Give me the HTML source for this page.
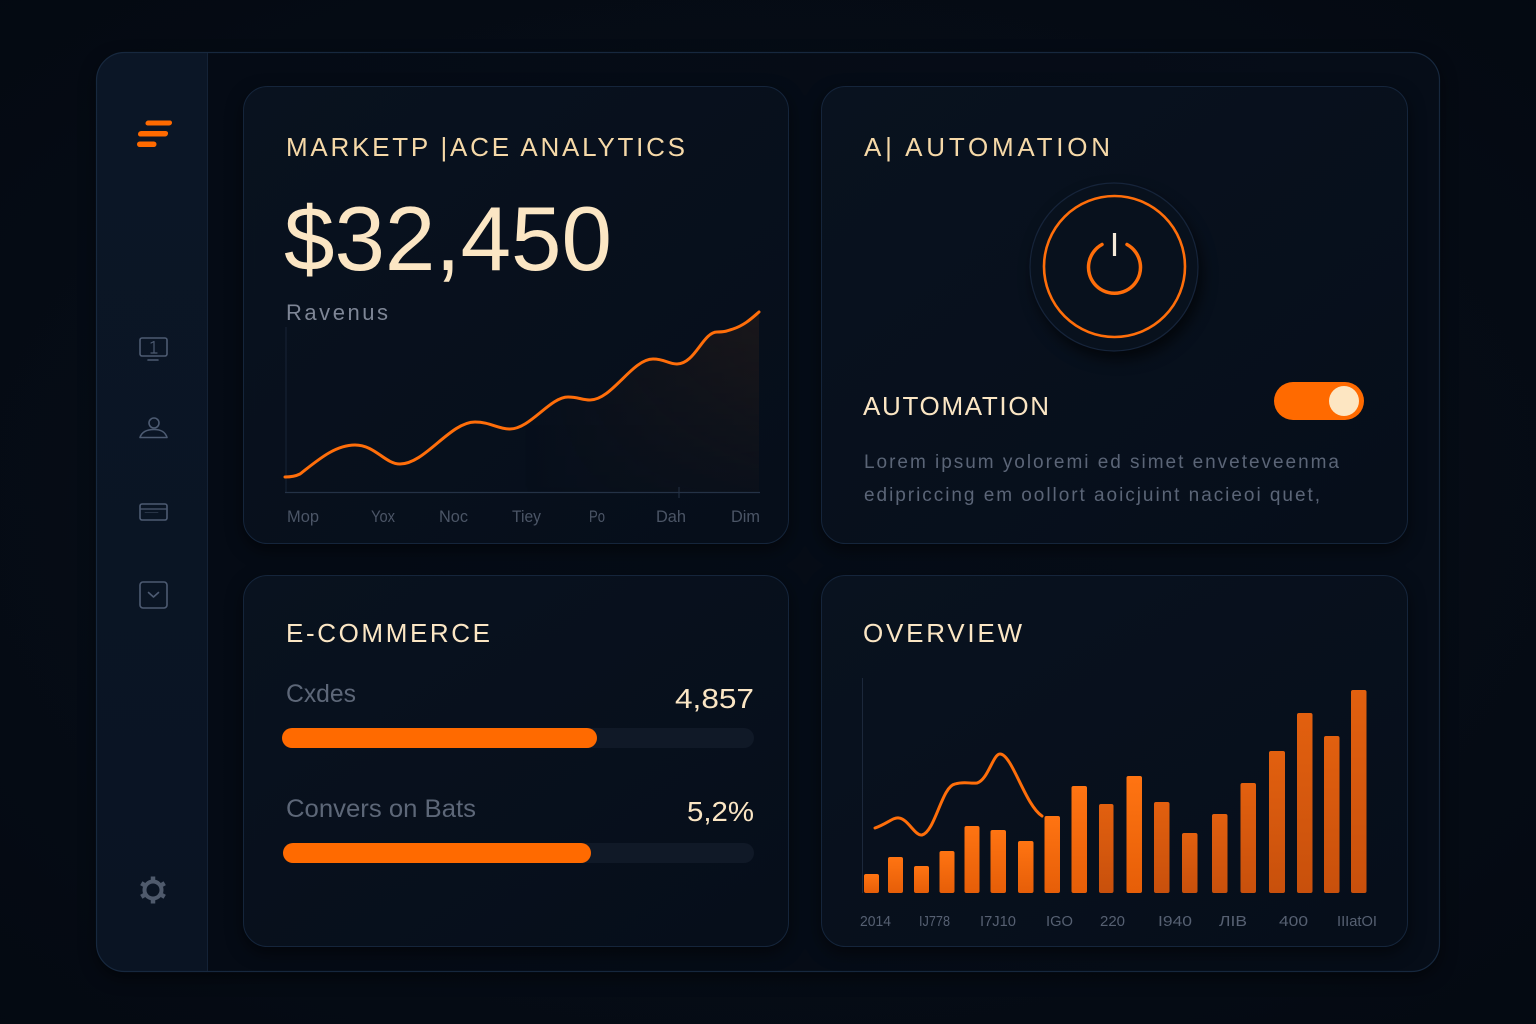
<!DOCTYPE html>
<html>
<head>
<meta charset="utf-8">
<style>
  html,body{margin:0;padding:0;background:#050b14;}
  body{width:1536px;height:1024px;overflow:hidden;}
  svg{display:block;}
  text{font-family:"Liberation Sans","DejaVu Sans",sans-serif;}
</style>
</head>
<body>
<svg width="1536" height="1024" viewBox="0 0 1536 1024" xmlns="http://www.w3.org/2000/svg">
  <defs>
    <radialGradient id="bgv" cx="50%" cy="50%" r="75%">
      <stop offset="0" stop-color="#08101c"/>
      <stop offset="1" stop-color="#040911"/>
    </radialGradient>
    <linearGradient id="mainbg" x1="0" y1="0" x2="1" y2="0">
      <stop offset="0" stop-color="#03070e"/>
      <stop offset="0.06" stop-color="#050b15"/>
      <stop offset="1" stop-color="#060d18"/>
    </linearGradient>
    <linearGradient id="side" x1="0" y1="0" x2="0" y2="1">
      <stop offset="0" stop-color="#0b1626"/>
      <stop offset="1" stop-color="#0a1423"/>
    </linearGradient>
    <linearGradient id="card" x1="0" y1="0" x2="1" y2="1">
      <stop offset="0" stop-color="#09121f"/>
      <stop offset="1" stop-color="#060e1a"/>
    </linearGradient>
    <linearGradient id="area" x1="0" y1="0" x2="1" y2="0">
      <stop offset="0" stop-color="#3a2418" stop-opacity="0"/>
      <stop offset="0.5" stop-color="#3a2418" stop-opacity="0"/>
      <stop offset="0.8" stop-color="#3a2418" stop-opacity="0.25"/>
      <stop offset="1" stop-color="#3a2418" stop-opacity="0.4"/>
    </linearGradient>
    <linearGradient id="areaV" x1="0" y1="0" x2="0" y2="1">
      <stop offset="0" stop-color="#fff" stop-opacity="1"/>
      <stop offset="1" stop-color="#fff" stop-opacity="0.2"/>
    </linearGradient>
    <mask id="areaMask"><rect x="280" y="300" width="490" height="200" fill="url(#areaV)"/></mask>
    <linearGradient id="bar" x1="0" y1="0" x2="0" y2="1">
      <stop offset="0" stop-color="#ff7412"/>
      <stop offset="1" stop-color="#e65e08"/>
    </linearGradient>
    <linearGradient id="bar2" x1="0" y1="0" x2="0" y2="1">
      <stop offset="0" stop-color="#e2600f"/>
      <stop offset="1" stop-color="#c8500c"/>
    </linearGradient>
    <filter id="sh" x="-20%" y="-20%" width="140%" height="140%" color-interpolation-filters="sRGB">
      <feDropShadow dx="0" dy="6" stdDeviation="8" flood-color="#000" flood-opacity="0.5"/>
    </filter>
    <filter id="sh2" x="-30%" y="-30%" width="160%" height="160%" color-interpolation-filters="sRGB">
      <feDropShadow dx="4" dy="8" stdDeviation="7" flood-color="#000" flood-opacity="0.6"/>
    </filter>
    <clipPath id="frameClip"><rect x="96.5" y="52.5" width="1343" height="919" rx="28"/></clipPath>
  </defs>

  <!-- background -->
  <rect x="0" y="0" width="1536" height="1024" fill="url(#bgv)"/>

  <!-- frame -->
  <rect x="96.5" y="52.5" width="1343" height="919" rx="28" fill="url(#mainbg)" filter="url(#sh)"/>
  <g clip-path="url(#frameClip)">
    <rect x="96" y="52" width="111.5" height="920" fill="url(#side)"/>
    <line x1="207.5" y1="52" x2="207.5" y2="972" stroke="#142236" stroke-width="1"/>
  </g>
  <rect x="96.5" y="52.5" width="1343" height="919" rx="28" fill="none" stroke="#17283e" stroke-width="1.2"/>

  <!-- logo -->
  <g fill="#ff6a00">
    <rect x="145.5" y="120.5" width="26.5" height="5" rx="2.5" transform="skewX(-8)" transform-origin="158 123"/>
    <rect x="138" y="131" width="30" height="5.5" rx="2.7" transform="skewX(-8)" transform-origin="153 134"/>
    <rect x="137" y="141.5" width="19.5" height="5.5" rx="2.7"/>
  </g>

  <!-- sidebar icons -->
  <g fill="none" stroke="#4d5b72" stroke-width="1.6" stroke-linecap="round" stroke-linejoin="round">
    <rect x="140" y="338" width="27" height="18" rx="2"/>
    <line x1="148" y1="360" x2="158" y2="360"/>
    <path d="M151,343 L154,341.5 L154,353 M151,353 L157,353" stroke-width="1.2"/>
    <circle cx="154" cy="423" r="5"/>
    <path d="M140,437.5 C142,431 148,429.5 154,429.5 C160,429.5 165,431 167,437.5"/>
    <line x1="141" y1="437.5" x2="166" y2="437.5"/>
    <rect x="140" y="504" width="27" height="16" rx="2"/>
    <line x1="141" y1="509" x2="166" y2="509" stroke-width="1.2"/>
    <line x1="145" y1="512.5" x2="158" y2="512.5" stroke-width="0.8" opacity="0.6"/>
    <rect x="140" y="582" width="27" height="26" rx="3"/>
    <path d="M148.5,592.5 L153.5,597 L158.5,592.5"/>
  </g>
  <!-- gear -->
  <g fill="none" stroke="#4f5a6c" stroke-linejoin="round">
    <circle cx="153" cy="890" r="8.5" stroke-width="4"/>
    <g stroke-width="4.5" stroke-linecap="butt">
      <line x1="153" y1="876.5" x2="153" y2="880"/>
      <line x1="153" y1="900" x2="153" y2="903.5"/>
      <line x1="141.3" y1="883.2" x2="144.3" y2="885"/>
      <line x1="161.7" y1="895" x2="164.7" y2="896.8"/>
      <line x1="141.3" y1="896.8" x2="144.3" y2="895"/>
      <line x1="161.7" y1="885" x2="164.7" y2="883.2"/>
    </g>
  </g>

  <!-- cards -->
  <g filter="url(#sh)">
    <rect x="243.5" y="86.5" width="545" height="457" rx="24" fill="url(#card)" stroke="#15253b" stroke-width="1"/>
    <rect x="821.5" y="86.5" width="586" height="457" rx="24" fill="url(#card)" stroke="#15253b" stroke-width="1"/>
    <rect x="243.5" y="575.5" width="545" height="371" rx="24" fill="url(#card)" stroke="#15253b" stroke-width="1"/>
    <rect x="821.5" y="575.5" width="586" height="371" rx="24" fill="url(#card)" stroke="#15253b" stroke-width="1"/>
  </g>

  <!-- Card 1: Marketplace analytics -->
  <text x="286" y="156" font-size="26" fill="#f6d9a8" textLength="399" lengthAdjust="spacing">MARKETP |ACE ANALYTICS</text>
  <text x="284" y="270" font-size="91" fill="#fbe6c4" textLength="328" lengthAdjust="spacingAndGlyphs">$32,450</text>
  <text x="286" y="320" font-size="22" fill="#7e8696" textLength="102" lengthAdjust="spacing">Ravenus</text>

  <line x1="286" y1="327" x2="286" y2="492" stroke="#172336" stroke-width="1"/>
  <line x1="285" y1="492.5" x2="760" y2="492.5" stroke="#243246" stroke-width="1.2"/>
  <line x1="679" y1="487" x2="679" y2="498" stroke="#243246" stroke-width="1"/>

  <path d="M285,477 C292,477 296,476 300,474 C318,460 335,445 355,445 C375,445 385,464 400,464 C425,464 450,422 475,422 C490,422 498,429 510,429 C530,429 550,397 568,397 C578,397 582,400 590,400 C612,400 632,359 653,359 C665,359 668,364 677,364 C695,364 703,332 717,332 C725,332 727,331 733,329 C745,325 752,318 759,312 L759,492 L285,492 Z" fill="url(#area)" mask="url(#areaMask)"/>
  <path d="M285,477 C292,477 296,476 300,474 C318,460 335,445 355,445 C375,445 385,464 400,464 C425,464 450,422 475,422 C490,422 498,429 510,429 C530,429 550,397 568,397 C578,397 582,400 590,400 C612,400 632,359 653,359 C665,359 668,364 677,364 C695,364 703,332 717,332 C725,332 727,331 733,329 C745,325 752,318 759,312" fill="none" stroke="#ff6e0a" stroke-width="3" stroke-linecap="round"/>

  <g font-size="17" fill="#4b5566">
    <text x="287" y="522" textLength="32" lengthAdjust="spacingAndGlyphs">Mop</text>
    <text x="371" y="522" textLength="24" lengthAdjust="spacingAndGlyphs">Yox</text>
    <text x="439" y="522" textLength="29" lengthAdjust="spacingAndGlyphs">Noc</text>
    <text x="512" y="522" textLength="29" lengthAdjust="spacingAndGlyphs">Tiey</text>
    <text x="589" y="522" textLength="16" lengthAdjust="spacingAndGlyphs">Po</text>
    <text x="656" y="522" textLength="30" lengthAdjust="spacingAndGlyphs">Dah</text>
    <text x="731" y="522" textLength="29" lengthAdjust="spacingAndGlyphs">Dim</text>
  </g>

  <!-- Card 2: AI Automation -->
  <text x="864" y="156" font-size="26" fill="#f6d9a8" textLength="246" lengthAdjust="spacing">A| AUTOMATION</text>

  <circle cx="1114" cy="267" r="84" fill="#08111d" stroke="#16243a" stroke-width="1.2" filter="url(#sh2)"/>
  <circle cx="1114.5" cy="266.5" r="70.5" fill="none" stroke="#ff6e0a" stroke-width="2.6"/>
  <path d="M1102,244.5 A26,26 0 1,0 1127,244.5" fill="none" stroke="#ff6e0a" stroke-width="3.5" stroke-linecap="round"/>
  <line x1="1114.5" y1="233" x2="1114.5" y2="256" stroke="#f5ead8" stroke-width="3.2"/>

  <text x="863" y="415" font-size="26" fill="#fbe6c4" textLength="186" lengthAdjust="spacing">AUTOMATION</text>

  <rect x="1274" y="382" width="90" height="38" rx="19" fill="#ff6a00"/>
  <circle cx="1344" cy="401" r="15" fill="#fde6c2"/>

  <g font-size="19" fill="#5b6577">
    <text x="864" y="468" textLength="475" lengthAdjust="spacing">Lorem ipsum yoloremi ed simet enveteveenma</text>
    <text x="864" y="501" textLength="456" lengthAdjust="spacing">edipriccing em oollort aoicjuint nacieoi quet,</text>
  </g>

  <!-- Card 3: E-commerce -->
  <text x="286" y="642" font-size="26" fill="#fbe6c4" textLength="204" lengthAdjust="spacing">E-COMMERCE</text>
  <text x="286" y="702" font-size="25" fill="#5d6778" textLength="70" lengthAdjust="spacingAndGlyphs">Cxdes</text>
  <text x="754" y="708" font-size="28" fill="#fbe6c4" text-anchor="end" textLength="79" lengthAdjust="spacingAndGlyphs">4,857</text>
  <rect x="282" y="728" width="472" height="20" rx="10" fill="#101927"/>
  <rect x="282" y="728" width="315" height="20" rx="10" fill="#ff6a00"/>

  <text x="286" y="817" font-size="25" fill="#5d6778" textLength="190" lengthAdjust="spacingAndGlyphs">Convers on Bats</text>
  <text x="754" y="821" font-size="28" fill="#fbe6c4" text-anchor="end" textLength="67" lengthAdjust="spacingAndGlyphs">5,2%</text>
  <rect x="283" y="843" width="471" height="20" rx="10" fill="#101927"/>
  <rect x="283" y="843" width="308" height="20" rx="10" fill="#ff6a00"/>

  <!-- Card 4: Overview -->
  <text x="863" y="642" font-size="26" fill="#fbe6c4" textLength="159" lengthAdjust="spacing">OVERVIEW</text>
  <line x1="862.5" y1="678" x2="862.5" y2="893" stroke="#1c283b" stroke-width="1"/>

  <g>
    <rect x="864" y="874" width="15" height="19" rx="2" fill="url(#bar)"/>
    <rect x="888" y="857" width="15" height="36" rx="2" fill="url(#bar)"/>
    <rect x="914" y="866" width="15" height="27" rx="2" fill="url(#bar)"/>
    <rect x="939.5" y="851" width="15" height="42" rx="2" fill="url(#bar)"/>
    <rect x="964.5" y="826" width="15" height="67" rx="2" fill="url(#bar)"/>
    <rect x="990.5" y="830" width="15.5" height="63" rx="2" fill="url(#bar)"/>
    <rect x="1018" y="841" width="15.5" height="52" rx="2" fill="url(#bar)"/>
    <rect x="1044.5" y="816" width="15.5" height="77" rx="2" fill="url(#bar)"/>
    <rect x="1071.5" y="786" width="15.5" height="107" rx="2" fill="url(#bar)"/>
    <rect x="1099" y="804" width="14.5" height="89" rx="2" fill="url(#bar2)"/>
    <rect x="1126.5" y="776" width="15.5" height="117" rx="2" fill="url(#bar)"/>
    <rect x="1154" y="802" width="15.5" height="91" rx="2" fill="url(#bar2)"/>
    <rect x="1182" y="833" width="15.5" height="60" rx="2" fill="url(#bar2)"/>
    <rect x="1212" y="814" width="15.5" height="79" rx="2" fill="url(#bar2)"/>
    <rect x="1240.5" y="783" width="15.5" height="110" rx="2" fill="url(#bar2)"/>
    <rect x="1269" y="751" width="16" height="142" rx="2" fill="url(#bar2)"/>
    <rect x="1297" y="713" width="15.5" height="180" rx="2" fill="url(#bar2)"/>
    <rect x="1324" y="736" width="15.5" height="157" rx="2" fill="url(#bar2)"/>
    <rect x="1351" y="690" width="15.5" height="203" rx="2" fill="url(#bar2)"/>
  </g>

  <path d="M875,828 C887,824 893,817 899,818 C908,819 915,836 922,835 C935,832 942,786 955,784 C965,781 970,784 977,783 C988,780 993,754 1000,754 C1012,754 1025,805 1042,816" fill="none" stroke="#ff6e0a" stroke-width="3" stroke-linecap="round"/>

  <g font-size="15" fill="#566072">
    <text x="860" y="926" textLength="31" lengthAdjust="spacingAndGlyphs">2014</text>
    <text x="919" y="926" textLength="31" lengthAdjust="spacingAndGlyphs">IJ778</text>
    <text x="980" y="926" textLength="36" lengthAdjust="spacingAndGlyphs">I7J10</text>
    <text x="1046" y="926" textLength="27" lengthAdjust="spacingAndGlyphs">IGO</text>
    <text x="1100" y="926" textLength="25" lengthAdjust="spacingAndGlyphs">220</text>
    <text x="1158" y="926" textLength="34" lengthAdjust="spacingAndGlyphs">I940</text>
    <text x="1219" y="926" textLength="28" lengthAdjust="spacingAndGlyphs">ЛIB</text>
    <text x="1279" y="926" textLength="29" lengthAdjust="spacingAndGlyphs">400</text>
    <text x="1337" y="926" textLength="40" lengthAdjust="spacingAndGlyphs">IIIatOI</text>
  </g>
</svg>
</body>
</html>
